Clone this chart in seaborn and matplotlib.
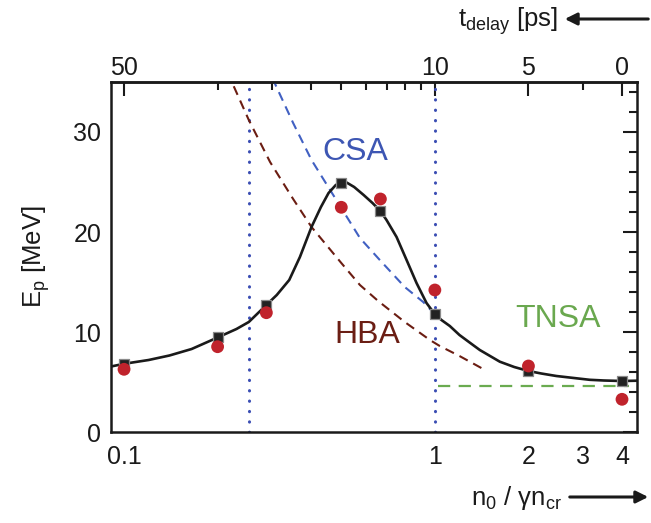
import matplotlib
matplotlib.use("Agg")
import matplotlib.pyplot as plt
from matplotlib.ticker import FixedLocator, FixedFormatter, NullFormatter
import numpy as np
import pandas as pd
import seaborn as sns

# ---------------- data ----------------
density = [0.1, 0.2, 0.287, 0.5, 0.668, 1.0, 2.0, 4.0]
sim_energy = [6.8, 9.47, 12.7, 24.93, 22.1, 11.78, 6.1, 5.1]
exp_energy = [6.27, 8.53, 11.93, 22.47, 23.3, 14.2, 6.6, 3.27]

fit_x = [0.0908, 0.1, 0.12, 0.14, 0.165, 0.2, 0.23, 0.252, 0.287, 0.31, 0.34,
         0.368, 0.401, 0.43, 0.455, 0.48, 0.5, 0.52, 0.55, 0.59, 0.63, 0.668,
         0.699, 0.753, 0.811, 0.873, 0.94, 1.0, 1.05, 1.117, 1.2, 1.3, 1.395,
         1.618, 1.8, 2.0, 2.2, 2.46, 2.8, 3.15, 3.5, 4.0, 4.47]
fit_y = [6.55, 6.82, 7.2, 7.65, 8.3, 9.45, 10.3, 11.0, 12.7, 13.7, 15.2,
         17.5, 20.5, 22.5, 23.9, 24.7, 24.95, 24.95, 24.5, 23.7, 22.9, 22.1,
         21.2, 19.5, 17.2, 14.9, 12.9, 11.78, 11.2, 10.6, 9.7, 8.9, 8.2,
         7.03, 6.5, 6.1, 5.85, 5.6, 5.4, 5.22, 5.15, 5.1, 5.13]

hba_x = [0.215, 0.252, 0.295, 0.35, 0.401, 0.5, 0.574, 0.657, 0.8, 0.964, 1.037, 1.2, 1.43]
hba_y = [36.0, 31.2, 27.0, 23.3, 20.5, 16.9, 14.7, 13.1, 11.0, 9.2, 8.6, 7.6, 6.3]

csa_x = [0.30, 0.35, 0.401, 0.5, 0.574, 0.665, 0.8, 0.917, 1.0]
csa_y = [35.4, 30.9, 27.2, 22.4, 19.4, 17.2, 14.5, 13.0, 11.8]

tnsa_x = [1.02, 4.22]
tnsa_y = [4.6, 4.6]

regime_bounds = [0.252, 1.0]

bottom_ticks = [0.1, 1, 2, 3, 4]
bottom_labels = ["0.1", "1", "2", "3", "4"]
top_ticks = [0.1, 1, 2, 4]
top_labels = ["50", "10", "5", "0"]
minor_ticks = [0.2, 0.3, 0.4, 0.5, 0.6, 0.7, 0.8, 0.9]
y_ticks = [0, 10, 20, 30]

# ---------------- style ----------------
sns.set_theme(style="white")
plt.rcParams["font.family"] = ["Liberation Sans", "DejaVu Sans"]
plt.rcParams["mathtext.fontset"] = "custom"
plt.rcParams["mathtext.rm"] = "Liberation Sans"
plt.rcParams["mathtext.it"] = "Liberation Sans:italic"

fig = plt.figure(figsize=(6.51, 5.23), dpi=100)
ax = fig.add_axes([111 / 651, 1 - 432 / 523, 526 / 651, 350 / 523])
ax.set_xscale("log")

BLUE_DOT = "#3a4db3"
BLUE = "#4160c2"
DRED = "#6b1d12"
GREEN = "#6aab50"
RED = "#c0232c"

for xb in regime_bounds:
    ax.axvline(xb, color=BLUE_DOT, lw=2.2, linestyle=(0, (0.1, 3.3)),
               dash_capstyle="round", zorder=1)

sns.lineplot(x=hba_x, y=hba_y, ax=ax, color=DRED, lw=1.5,
             linestyle=(0, (4.5, 3.0)), zorder=2)
sns.lineplot(x=csa_x, y=csa_y, ax=ax, color=BLUE, lw=1.5,
             linestyle=(0, (4.5, 3.0)), zorder=2)
sns.lineplot(x=tnsa_x, y=tnsa_y, ax=ax, color=GREEN, lw=1.6,
             linestyle=(0, (5.5, 3.8)), zorder=2)
sns.lineplot(x=fit_x, y=fit_y, ax=ax, sort=False, color="#1a1a1a", lw=1.9,
             zorder=3, solid_joinstyle="round")

sns.scatterplot(x=density, y=sim_energy, ax=ax, marker="s", s=60,
                color="#222222", edgecolor="#8a8a8a", linewidth=0.9, zorder=4)
sns.scatterplot(x=density, y=exp_energy, ax=ax, marker="o", s=85,
                color=RED, edgecolor="none", zorder=5)

ax.set_xlim(0.0908, 4.47)
ax.set_ylim(0, 35)

# ticks
ax.xaxis.set_major_locator(FixedLocator(bottom_ticks))
ax.xaxis.set_major_formatter(FixedFormatter(bottom_labels))
ax.xaxis.set_minor_locator(FixedLocator(minor_ticks))
ax.xaxis.set_minor_formatter(NullFormatter())
ax.set_yticks(y_ticks)
ax.set_yticks(np.arange(0, 36, 2), minor=True)
ax.tick_params(axis="both", which="both", direction="in", colors="#1a1a1a",
               width=1.5, labelsize=18, labelcolor="#1a1a1a")
ax.tick_params(axis="both", which="major", length=10)
ax.tick_params(axis="both", which="minor", length=5.5)
ax.tick_params(axis="y", which="both", right=True, pad=7)
ax.tick_params(axis="x", which="both", top=False, pad=9)

sec = ax.secondary_xaxis("top")
sec.xaxis.set_major_locator(FixedLocator(top_ticks))
sec.xaxis.set_major_formatter(FixedFormatter(top_labels))
sec.xaxis.set_minor_locator(FixedLocator(minor_ticks + [3]))
sec.xaxis.set_minor_formatter(NullFormatter())
sec.tick_params(axis="x", which="both", direction="in", width=1.5,
                labelsize=18, colors="#1a1a1a", pad=1.5)
sec.tick_params(axis="x", which="major", length=10)
sec.tick_params(axis="x", which="minor", length=5.5)
sec.spines["top"].set_linewidth(1.8)
sec.spines["top"].set_color("#1a1a1a")

for sp in ax.spines.values():
    sp.set_linewidth(1.8)
    sp.set_color("#1a1a1a")
    sp.set_visible(True)

ax.set_xlabel("")
ax.set_ylabel(r"E$_{\rm p}$ [MeV]", fontsize=18.5, color="#1a1a1a")
ax.yaxis.set_label_coords(-0.112, 0.5)

# regime labels
ax.text(0.554, 28.0, "CSA", color="#3d56b3", fontsize=23, ha="center", va="center")
ax.text(0.605, 9.7, "HBA", color="#6b1e14", fontsize=23, ha="center", va="center")
ax.text(2.49, 11.27, "TNSA", color="#6aa84f", fontsize=23, ha="center", va="center")

# axis titles with arrows
fig.text(562 / 651, 1 - 505 / 523, r"n$_{\rm 0}$ / γn$_{\rm cr}$", fontsize=18.5,
         ha="right", va="baseline", color="#1a1a1a")
fig.add_artist(matplotlib.patches.FancyArrowPatch(
    (567 / 651, 1 - 497 / 523), (651 / 651, 1 - 497 / 523),
    transform=fig.transFigure, arrowstyle="-|>", mutation_scale=18,
    lw=2.2, color="#1a1a1a"))

fig.text(558 / 651, 1 - 27 / 523, r"t$_{\rm delay}$ [ps]", fontsize=18.5,
         ha="right", va="baseline", color="#1a1a1a")
fig.add_artist(matplotlib.patches.FancyArrowPatch(
    (651 / 651, 1 - 19 / 523), (562 / 651, 1 - 19 / 523),
    transform=fig.transFigure, arrowstyle="-|>", mutation_scale=18,
    lw=2.2, color="#1a1a1a"))

fig.savefig("out.png", dpi=100)
